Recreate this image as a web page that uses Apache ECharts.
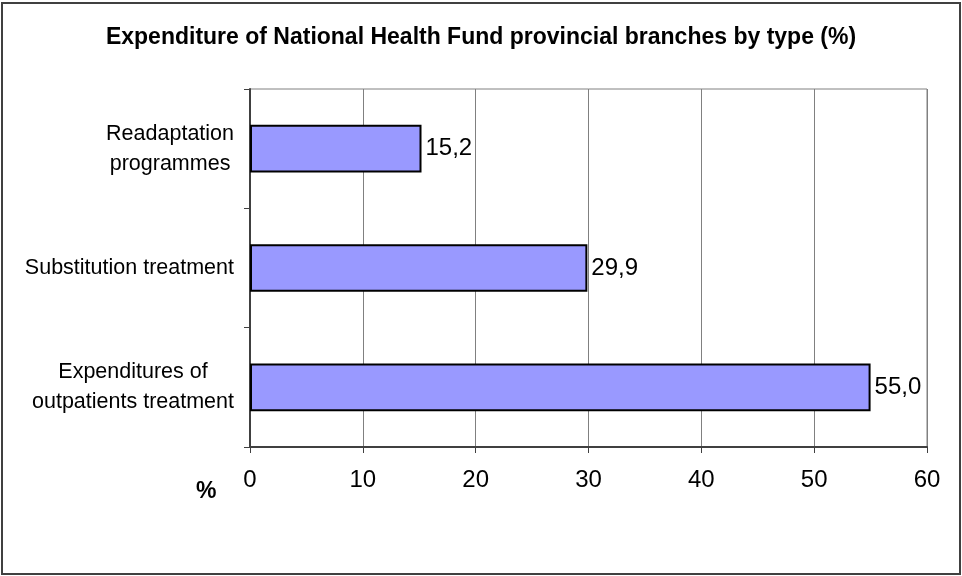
<!DOCTYPE html>
<html>
<head>
<meta charset="utf-8">
<script src="https://cdn.jsdelivr.net/npm/echarts@6/dist/echarts.min.js"></script>
<style>
html,body{margin:0;padding:0;background:#fff;}
#chart{width:962px;height:576px;}
</style>
</head>
<body>
<div id="chart"></div>
<script>
var titleText = 'Expenditure of National Health Fund provincial branches by type (%)';
var categories = ['Expenditures of\noutpatients treatment', 'Substitution treatment', 'Readaptation\nprogrammes'];
var values = [55.0, 29.9, 15.2];
var xTicks = [0, 10, 20, 30, 40, 50, 60];
var axisUnit = '%';

var FONT = '"Liberation Sans", Arial, sans-serif';
var chart = echarts.init(document.getElementById('chart'), null, {renderer: 'canvas'});
chart.setOption({
  animation: false,
  backgroundColor: '#fff',
  title: {
    text: titleText,
    left: 'center',
    top: 21,
    textStyle: {fontFamily: FONT, fontSize: 23, fontWeight: 'bold', color: '#000'}
  },
  grid: {left: 250, right: 35, top: 89, bottom: 129, containLabel: false,
    show: true, borderColor: '#808080', borderWidth: 1, backgroundColor: 'transparent'},
  xAxis: {
    type: 'value',
    min: xTicks[0],
    max: xTicks[xTicks.length - 1],
    interval: 10,
    axisLine: {show: true, lineStyle: {color: '#404040', width: 2}},
    axisTick: {show: true, length: 6, lineStyle: {color: '#404040', width: 1}},
    splitLine: {show: true, lineStyle: {color: '#808080', width: 1}},
    axisLabel: {fontFamily: FONT, fontSize: 24, color: '#000', margin: 21}
  },
  yAxis: {
    type: 'category',
    data: categories,
    axisLine: {show: true, lineStyle: {color: '#404040', width: 2}},
    axisTick: {show: true, length: 6, alignWithLabel: false, lineStyle: {color: '#404040', width: 1}},
    splitLine: {show: false},
    axisLabel: {
      margin: 16,
      formatter: function (v) {
        return v.split('\n').map(function (s) { return '{c|' + s + '}'; }).join('\n');
      },
      rich: {c: {align: 'center', fontFamily: FONT, fontSize: 21.5, lineHeight: 30, color: '#000'}}
    }
  },
  series: [{
    type: 'bar',
    data: values,
    barCategoryGap: '60%',
    itemStyle: {color: '#9999FF', borderColor: '#000', borderWidth: 2},
    label: {
      show: true,
      position: 'right',
      distance: 4,
      fontFamily: FONT,
      fontSize: 24,
      color: '#000',
      formatter: function (p) { return p.value.toFixed(1).replace('.', ','); }
    }
  }],
  graphic: [
    {type: 'rect', shape: {x: 2, y: 3, width: 958, height: 571}, style: {fill: 'none', stroke: '#404040', lineWidth: 2}, silent: true},
    {type: 'text', left: 196, top: 480, style: {text: axisUnit, fontFamily: FONT, fontSize: 23, fontWeight: 'bold', fill: '#000'}}
  ]
});
</script>
</body>
</html>
